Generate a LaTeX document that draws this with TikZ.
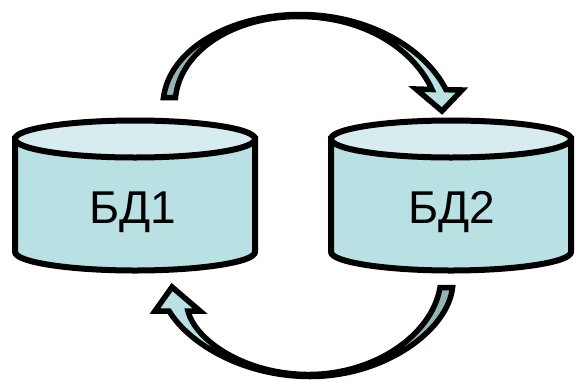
\documentclass[tikz,border=0pt]{standalone}
\usepackage{fontspec}
\setmainfont{Liberation Sans}
\definecolor{bdfill}{HTML}{B9E0E3}
\definecolor{bdtop}{HTML}{D6ECEF}
\definecolor{bddark}{HTML}{93B5B8}
\tikzset{
  edge/.style={draw=black,line width=6pt,line join=miter,miter limit=10},
  arrowedge/.style={draw=black,line width=5.5pt,line join=miter,miter limit=10},
  lbl/.style={font=\fontsize{46}{46}\selectfont,inner sep=0pt,anchor=base}
}
\newcommand{\dbcyl}[1]{%
  \path[edge,fill=bdfill] (#1,139) -- (#1,252) .. controls (#1,262) and (#1+54,270.5) .. (#1+120,270.5) .. controls (#1+186,270.5) and (#1+240,262) .. (#1+240,252) -- (#1+240,139) -- cycle;
  \path[edge,fill=bdtop] (#1+120,139) ellipse[x radius=120pt,y radius=18.5pt];
}
\begin{document}
\begin{tikzpicture}[x=1pt,y=-1pt]
\useasboundingbox (0,0) rectangle (577,380);
\dbcyl{15}
\dbcyl{331}
\node[lbl] (db1) at (132.5,223) {БД1};
\node[lbl] (db2) at (451.5,223) {БД2};
% upper arrow
\def\toparrow{(163.5,97.5) .. controls (170,48) and (232,14.5) .. (300,14.5) .. controls (368,14.5) and (425,48) .. (446,89.7) -- (462,90) -- (442,111) -- (416,89) -- (432,89.5) .. controls (414,50) and (366,17) .. (300,16.5) .. controls (232,16) and (180,52) .. (175.5,97.5) -- cycle}
\begin{scope}
  \clip (0,0) rectangle (300,380);
  \fill[bddark] \toparrow;
\end{scope}
\begin{scope}
  \clip (300,0) rectangle (577,380);
  \fill[bdfill] \toparrow;
\end{scope}
\path[arrowedge] \toparrow;
% lower arrow
\def\botarrow{(452.5,287.5) .. controls (448,330) and (385,376.5) .. (310,376.5) .. controls (245,376.5) and (190,345) .. (169,311) -- (155,311) -- (172,287) -- (200,311) -- (188,311) .. controls (195,340) and (245,375) .. (310,374.5) .. controls (375,374) and (432,335) .. (440,287.5) -- cycle}
\begin{scope}
  \clip (0,0) rectangle (310,380);
  \fill[bdfill] \botarrow;
\end{scope}
\begin{scope}
  \clip (310,0) rectangle (577,380);
  \fill[bddark] \botarrow;
\end{scope}
\path[arrowedge] \botarrow;
\end{tikzpicture}
\end{document}
